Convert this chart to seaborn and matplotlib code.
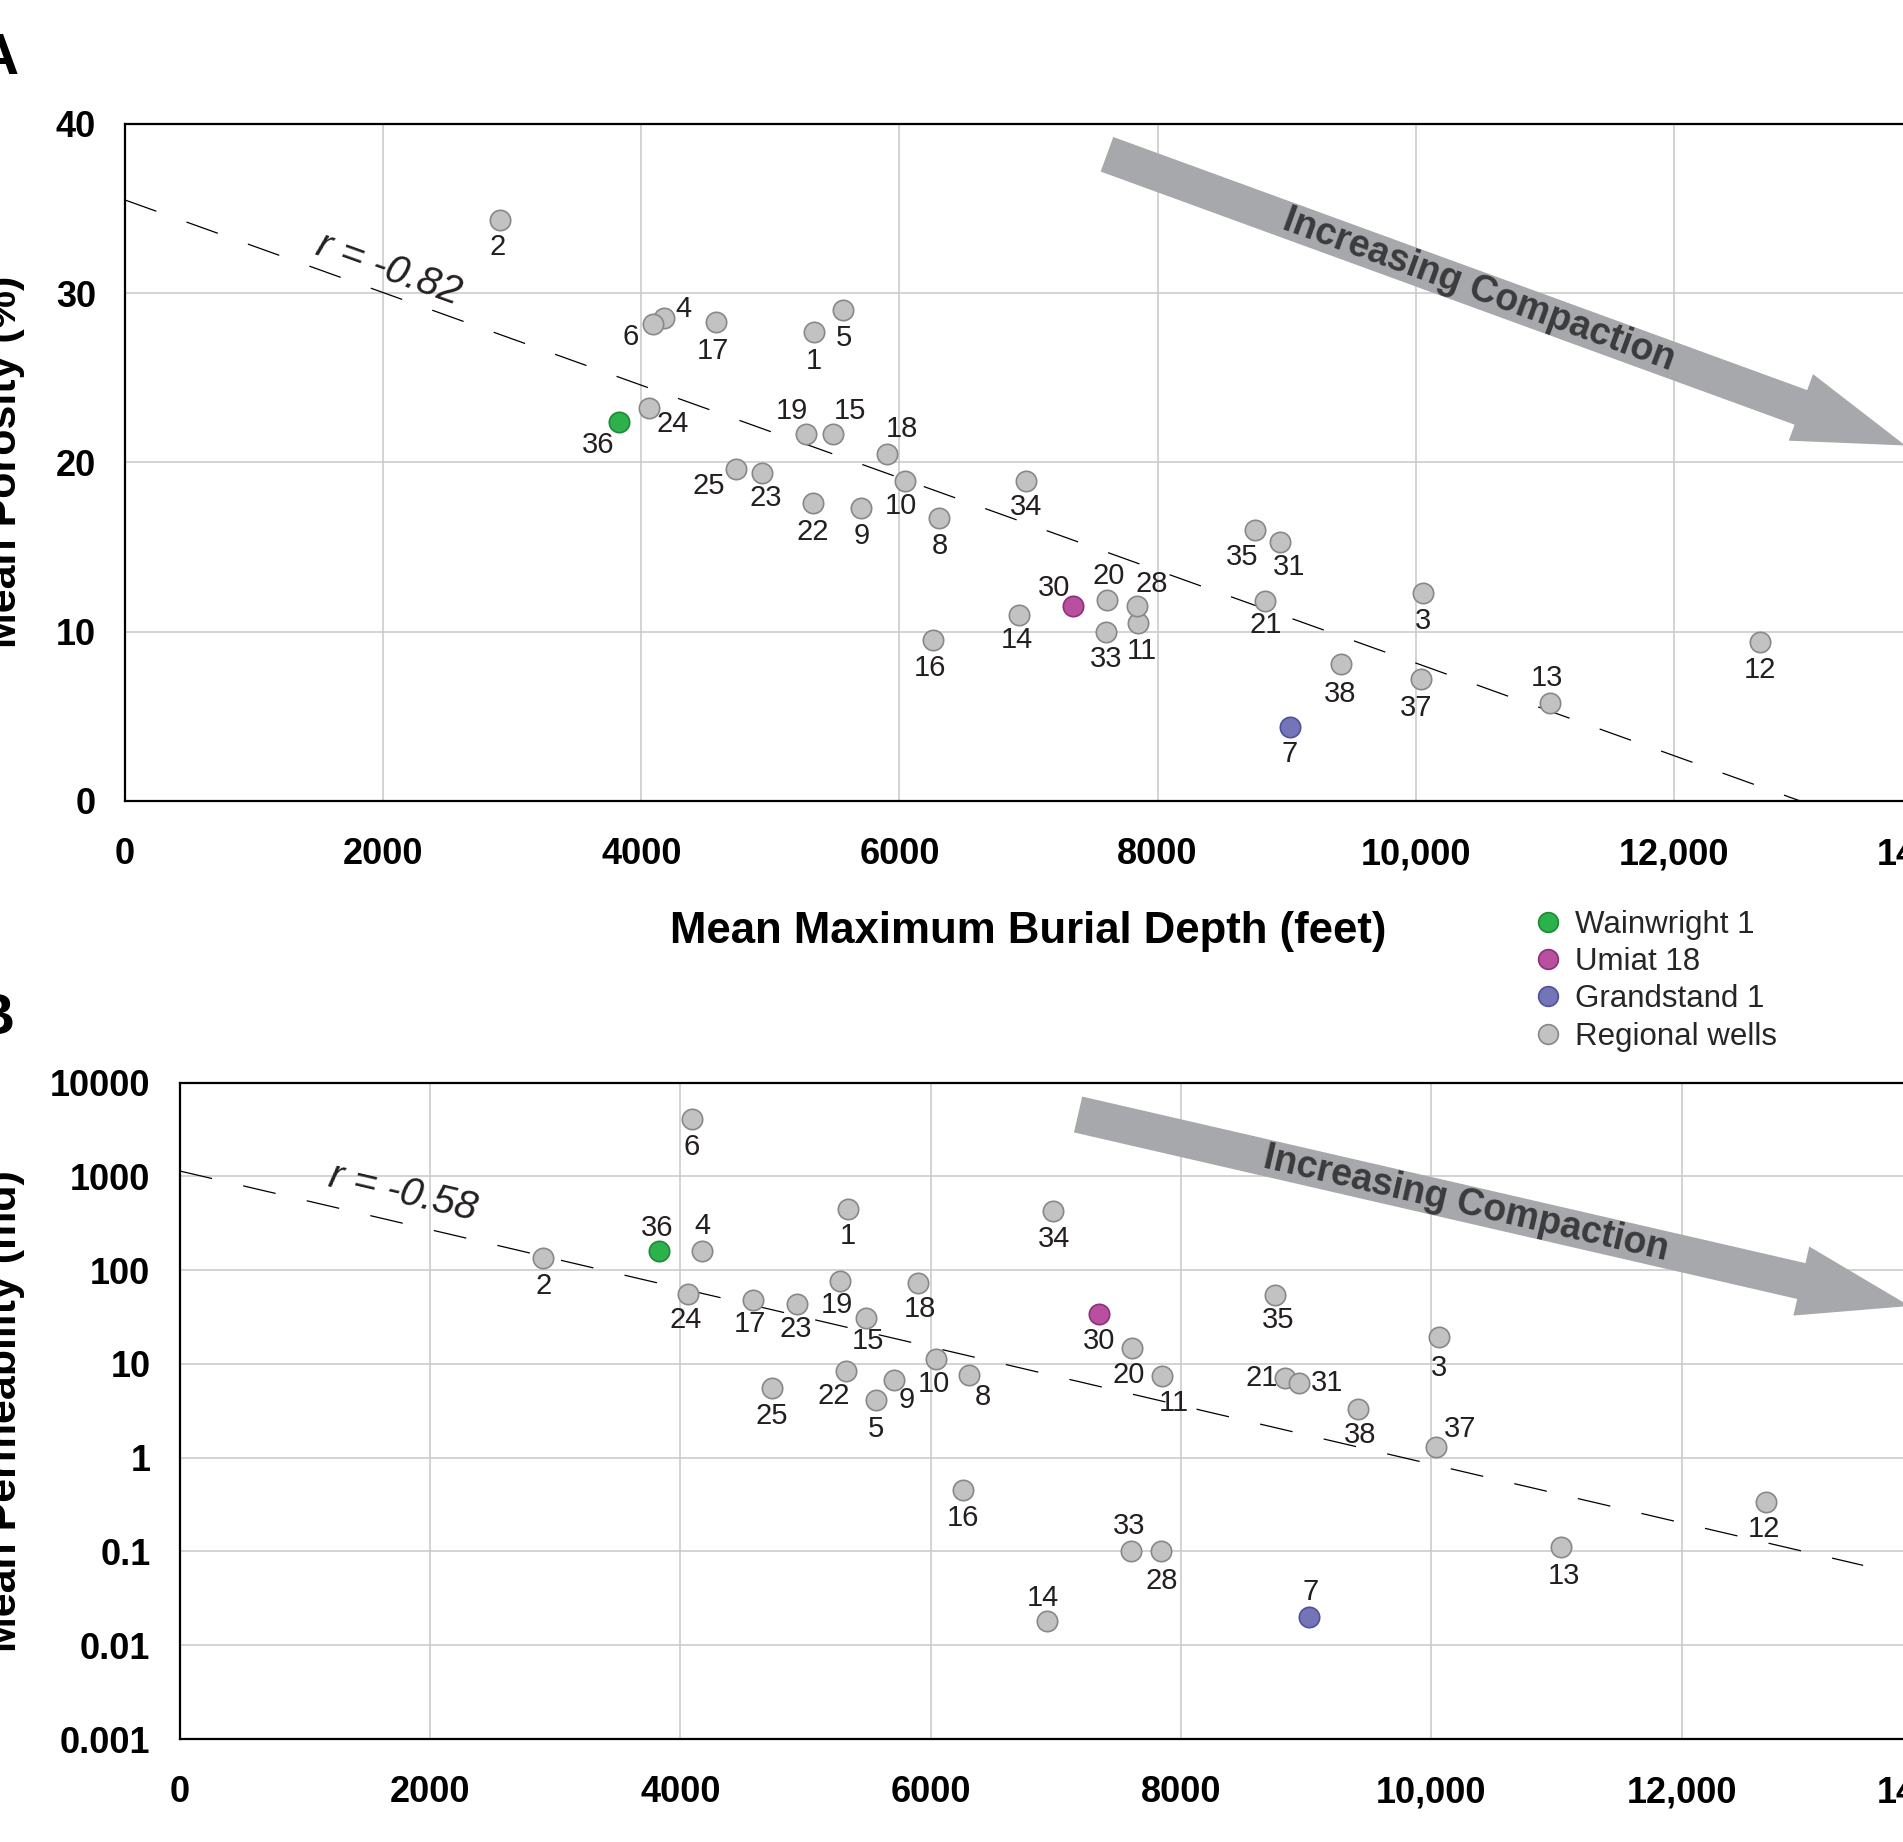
import numpy as np
import pandas as pd
import matplotlib
matplotlib.use("Agg")
import matplotlib.pyplot as plt
import matplotlib.patches as mpatches
from matplotlib.lines import Line2D
import seaborn as sns

# ---------------- data ----------------
wells = [1, 2, 3, 4, 5, 6, 7, 8, 9, 10, 11, 12, 13, 14, 15, 16, 17, 18, 19, 20,
         21, 22, 23, 24, 25, 28, 30, 31, 33, 34, 35, 36, 37, 38]
depth_ft = [5340, 2905, 10060, 4175, 5560, 4090, 9025, 6310, 5705, 6045,
            7845, 12670, 11040, 6930, 5485, 6260, 4578, 5900, 5275, 7608,
            8835, 5327, 4935, 4062, 4730, 7838, 7345, 8945, 7600, 6978,
            8754, 3828, 10038, 9418]
porosity_pct = [27.7, 34.3, 12.3, 28.5, 29.0, 28.2, 4.4, 16.7, 17.3, 18.9,
                10.5, 9.4, 5.8, 11.0, 21.7, 9.5, 28.3, 20.5, 21.7, 11.9,
                11.8, 17.6, 19.4, 23.2, 19.6, 11.5, 11.5, 15.3, 10.0, 18.9,
                16.0, 22.4, 7.2, 8.1]
permeability_md = [452, 133, 19.2, 159, 4.1, 4090, 0.020, 7.6, 6.8, 11.2,
                   7.4, 0.34, 0.111, 0.018, 31, 0.45, 48, 73, 76, 14.7,
                   7.0, 8.3, 43, 56, 5.5, 0.10, 33.8, 6.2, 0.10, 425,
                   54, 159, 1.3, 3.3]
special_wells = {36: "Wainwright 1", 30: "Umiat 18", 7: "Grandstand 1"}
group_names = ["Wainwright 1", "Umiat 18", "Grandstand 1", "Regional wells"]

fit_a_depth = [0, 12980]
fit_a_porosity = [35.5, 0.0]
fit_b_depth = [0, 13450]
fit_b_perm = [1140, 0.071]
r_a_text = "r = -0.82"
r_b_text = "r = -0.58"
r_a_pos = (2040, 31.4)
r_b_pos = (1780, 664)

arrow_text = "Increasing Compaction"
arrow_a_depth = [7608, 13793]
arrow_a_por = [38.2, 21.0]
arrow_b_depth = [7178, 13821]
arrow_b_perm = [4560, 41.4]

xticks = [0, 2000, 4000, 6000, 8000, 10000, 12000, 14000]
xticklabels = ["0", "2000", "4000", "6000", "8000", "10,000", "12,000", "14,000"]
yticks_a = [0, 10, 20, 30, 40]
yticklabels_a = ["0", "10", "20", "30", "40"]
yticks_b = [0.001, 0.01, 0.1, 1, 10, 100, 1000, 10000]
yticklabels_b = ["0.001", "0.01", "0.1", "1", "10", "100", "1000", "10000"]

# ---------------- styles ----------------
fill_colors = {"Wainwright 1": "#2cb14b", "Umiat 18": "#b8509f",
               "Grandstand 1": "#7475b9", "Regional wells": "#c2c2c2"}
edge_colors = {"Wainwright 1": "#1d8a38", "Umiat 18": "#8c2f7d",
               "Grandstand 1": "#50509c", "Regional wells": "#888888"}

# label offsets in points (dx, dy)
off_a = {1: (0, -21), 2: (-2, -19), 3: (0, -20), 4: (14, 7), 5: (1, -20),
         6: (-16, -10), 7: (0, -20), 8: (0, -20), 9: (0, -20), 10: (-3, -18),
         11: (3, -20), 12: (0, -20), 13: (-2, 18), 14: (-2, -18), 15: (12, 16),
         16: (-2, -20), 17: (-2, -21), 18: (11, 18), 19: (-10, 16), 20: (1, 17),
         21: (0, -17), 22: (0, -21), 23: (3, -18), 24: (17, -11), 25: (-19, -12),
         28: (11, 16), 30: (-14, 13), 31: (7, -18), 33: (0, -20), 34: (0, -19),
         35: (-9, -19), 36: (-15, -17), 37: (-3, -21), 38: (0, -22)}
off_b = {1: (0, -20), 2: (0, -20), 3: (0, -22), 4: (0, 18), 5: (0, -21),
         6: (0, -20), 7: (1, 18), 8: (10, -16), 9: (9, -15), 10: (-2, -18),
         11: (9, -19), 12: (-1, -20), 13: (2, -21), 14: (-3, 17), 15: (1, -17),
         16: (0, -20), 17: (-2, -17), 18: (1, -19), 19: (-2, -17), 20: (-2, -19),
         21: (-17, 0), 22: (-9, -18), 23: (-1, -18), 24: (-2, -19), 25: (0, -20),
         28: (1, -21), 30: (0, -19), 31: (20, 0), 33: (-1, 18), 34: (1, -20),
         35: (2, -18), 36: (-1, 17), 37: (17, 13), 38: (1, -19)}

df = pd.DataFrame({"well": wells, "depth": depth_ft, "porosity": porosity_pct,
                   "perm": permeability_md})
df["group"] = [special_wells.get(w, "Regional wells") for w in wells]

sns.set_theme(style="white")
plt.rcParams["font.family"] = ["Liberation Sans", "DejaVu Sans"]
plt.rcParams["lines.scale_dashes"] = False

W, H = 1903, 1842
fig = plt.figure(figsize=(W / 100, H / 100), dpi=100)
axA = fig.add_axes([125 / W, 1 - 801 / H, (1932 - 125) / W, (801 - 123.8) / H])
axB = fig.add_axes([179.6 / W, 1 - 1739 / H, (1932 - 179.6) / W, (1739 - 1082.5) / H])

text_color = "#231f20"
grid_color = "#c8c8c8"
MS = 215


def style_axes(ax):
    ax.set_facecolor("white")
    for side in ["left", "bottom", "top"]:
        ax.spines[side].set_visible(True)
        ax.spines[side].set_color("black")
        ax.spines[side].set_linewidth(1.6)
    ax.spines["right"].set_visible(False)
    ax.grid(True, color=grid_color, linewidth=1.1, zorder=0)
    ax.set_axisbelow(True)
    ax.tick_params(axis="both", which="major", direction="out", length=8,
                   width=1.6, color="black", labelcolor="black", labelsize=26)
    ax.tick_params(axis="x", pad=18)
    ax.tick_params(axis="y", pad=13)
    ax.tick_params(axis="both", which="minor", length=0)
    ax.set_xlim(0, 14000)
    ax.set_xticks(xticks, labels=xticklabels, fontweight="bold", fontsize=26)


def draw_points(ax, ycol, offsets):
    for g in group_names:
        sub = df[df["group"] == g]
        sns.scatterplot(data=sub, x="depth", y=ycol, ax=ax, s=MS,
                        color=fill_colors[g], edgecolor=edge_colors[g],
                        linewidth=1.2, zorder=5, legend=False)
    for w, x, y in zip(df["well"], df["depth"], df[ycol]):
        dx, dy = offsets[w]
        ax.annotate(str(w), (x, y), xytext=(dx, dy), textcoords="offset points",
                    ha="center", va="center", fontsize=21, color=text_color,
                    zorder=6)


def draw_arrow(ax, xs, ys):
    tail = (xs[0], ys[0])
    tip = (xs[1], ys[1])
    arr = mpatches.FancyArrowPatch(
        posA=tail, posB=tip,
        arrowstyle="simple,head_length=80,head_width=51,tail_width=26.5",
        mutation_scale=1, shrinkA=0, shrinkB=0, color="#a7a8ab",
        linewidth=0, transform=ax.transData, zorder=3)
    ax.add_patch(arr)
    p1 = ax.transData.transform(tail)
    p2 = ax.transData.transform(tip)
    ang = np.degrees(np.arctan2(p2[1] - p1[1], p2[0] - p1[0]))
    pm = p1 + 0.466 * (p2 - p1)
    pd_ = ax.transData.inverted().transform(pm)
    ax.text(pd_[0], pd_[1], arrow_text, rotation=ang, rotation_mode="anchor",
            ha="center", va="center", fontsize=27, fontweight="bold",
            color="#3b3b3d", zorder=4)


def draw_fit(ax, xs, ys, rtext, rpos):
    sns.lineplot(x=xs, y=ys, ax=ax, color="black", linewidth=0.9,
                 dashes=False, zorder=4, legend=False)
    ln = ax.get_lines()[-1]
    ln.set_dashes((24, 23))
    p1 = ax.transData.transform((xs[0], ys[0]))
    p2 = ax.transData.transform((xs[1], ys[1]))
    ang = np.degrees(np.arctan2(p2[1] - p1[1], p2[0] - p1[0]))
    ax.text(rpos[0], rpos[1], rtext, rotation=ang, rotation_mode="anchor",
            ha="center", va="center", fontsize=29, fontstyle="italic",
            color=text_color, zorder=4)


# ---------------- panel A ----------------
style_axes(axA)
axA.set_ylim(0, 40)
axA.set_yticks(yticks_a, labels=yticklabels_a, fontweight="bold", fontsize=26)
draw_arrow(axA, arrow_a_depth, arrow_a_por)
draw_fit(axA, fit_a_depth, fit_a_porosity, r_a_text, r_a_pos)
draw_points(axA, "porosity", off_a)
axA.set_xlabel("Mean Maximum Burial Depth (feet)", fontsize=31.5,
               fontweight="bold", color="black")
axA.xaxis.set_label_coords(1028.5 / W, 1 - 911 / H, transform=fig.transFigure)
axA.set_ylabel("Mean Porosity (%)", fontsize=31, fontweight="bold", color="black")
axA.yaxis.set_label_coords(25 / W, 1 - 462 / H, transform=fig.transFigure)

# ---------------- panel B ----------------
style_axes(axB)
axB.set_yscale("log")
axB.set_ylim(0.001, 10000)
axB.set_yticks(yticks_b, labels=yticklabels_b, fontweight="bold", fontsize=26)
axB.yaxis.set_minor_locator(matplotlib.ticker.NullLocator())
draw_arrow(axB, arrow_b_depth, arrow_b_perm)
draw_fit(axB, fit_b_depth, fit_b_perm, r_b_text, r_b_pos)
draw_points(axB, "perm", off_b)
axB.set_xlabel("")
axB.set_ylabel("Mean Permeability (md)", fontsize=31, fontweight="bold", color="black")
axB.yaxis.set_label_coords(25 / W, 1 - 1410.75 / H, transform=fig.transFigure)

# ---------------- legend ----------------
handles = [Line2D([], [], marker="o", linestyle="", markersize=14.2,
                  markerfacecolor=fill_colors[g], markeredgecolor=edge_colors[g],
                  markeredgewidth=1.2) for g in group_names]
fig.legend(handles, group_names, loc="upper left",
           bbox_to_anchor=(1532 / W, 1 - 910 / H), bbox_transform=fig.transFigure,
           frameon=False, fontsize=22.5, handlelength=1.0, handletextpad=0.38,
           labelspacing=0.23, borderpad=0, borderaxespad=0)

# ---------------- panel letters ----------------
fig.text(19 / W, 1 - 74 / H, "A", ha="right", va="baseline", fontsize=42,
         fontweight="bold", color="black")
fig.text(14 / W, 1 - 1034 / H, "B", ha="right", va="baseline", fontsize=42,
         fontweight="bold", color="black")

fig.savefig("out.png", dpi=100, facecolor="white")
